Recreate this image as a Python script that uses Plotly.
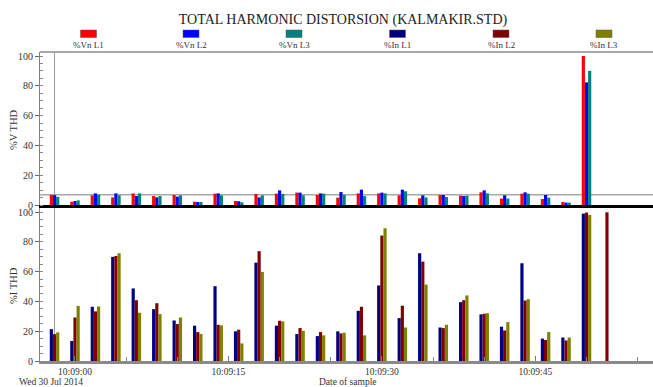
import plotly.graph_objects as go

# ---------------- data ----------------
times = [
    "2014-07-30 10:08:58", "2014-07-30 10:09:00", "2014-07-30 10:09:02", "2014-07-30 10:09:04",
    "2014-07-30 10:09:06", "2014-07-30 10:09:08", "2014-07-30 10:09:10", "2014-07-30 10:09:12",
    "2014-07-30 10:09:14", "2014-07-30 10:09:16", "2014-07-30 10:09:18", "2014-07-30 10:09:20",
    "2014-07-30 10:09:22", "2014-07-30 10:09:24", "2014-07-30 10:09:26", "2014-07-30 10:09:28",
    "2014-07-30 10:09:30", "2014-07-30 10:09:32", "2014-07-30 10:09:34", "2014-07-30 10:09:36",
    "2014-07-30 10:09:38", "2014-07-30 10:09:40", "2014-07-30 10:09:42", "2014-07-30 10:09:44",
    "2014-07-30 10:09:46", "2014-07-30 10:09:48", "2014-07-30 10:09:50", "2014-07-30 10:09:52",
]

vn_l1 = [6.7, 2.2, 6.5, 5.1, 7.8, 6.0, 6.7, 2.2, 7.6, 2.7, 7.4, 7.6, 8.3, 6.7,
         4.9, 7.8, 7.8, 6.5, 4.5, 6.7, 6.3, 8.5, 4.3, 7.6, 4.0, 2.0, 100.0, None]
vn_l2 = [6.6, 2.7, 7.8, 7.8, 6.0, 5.1, 5.6, 2.0, 7.8, 2.5, 5.1, 9.8, 8.3, 7.8,
         8.7, 10.3, 8.3, 10.3, 6.5, 6.7, 6.0, 9.8, 6.5, 8.5, 6.7, 1.6, 82.3, None]
vn_l3 = [5.5, 3.1, 6.9, 6.5, 7.8, 6.0, 6.5, 2.0, 6.5, 1.8, 6.5, 7.4, 6.5, 7.6,
         6.7, 6.0, 7.8, 9.2, 5.1, 5.4, 6.3, 7.8, 4.3, 7.6, 4.9, 1.6, 90.0, None]

in_l1 = [21.4, 13.4, 36.4, 69.9, 48.7, 34.8, 27.2, 23.7, 50.2, 19.9, 66.0, 23.7, 18.1, 16.7,
         19.9, 33.7, 50.7, 28.8, 72.3, 22.5, 39.5, 31.3, 23.0, 65.6, 15.0, 15.8, 98.9, None]
in_l2 = [18.0, 29.2, 33.3, 70.5, 40.8, 38.8, 24.8, 19.4, 24.3, 21.0, 73.7, 27.0, 22.1, 19.4,
         18.5, 36.4, 84.2, 37.1, 66.7, 22.1, 40.8, 31.7, 20.5, 40.6, 14.1, 13.8, 99.6, 99.8]
in_l3 = [19.2, 37.0, 36.6, 72.3, 32.4, 31.5, 29.2, 18.1, 23.9, 11.8, 59.8, 26.6, 20.3, 17.2,
         19.0, 17.2, 89.1, 22.5, 51.3, 24.3, 44.0, 32.1, 26.1, 41.5, 19.4, 15.8, 98.0, None]

v_limit = 6.8          # voltage THD reference line
cursor_time = "2014-07-30 10:08:58"

names = ["%Vn L1", "%Vn L2", "%Vn L3", "%In L1", "%In L2", "%In L3"]
colors = ["#FF0000", "#0000FF", "#008080", "#000080", "#800000", "#808000"]

# ---------------- figure ----------------
W, H = 653, 387
ML, MR, MT, MB = 40, 0, 52, 26
PW, PH = W - ML - MR, H - MT - MB

def px_x(px):
    return (px - ML) / PW

def px_y(py):
    return (H - MB - py) / PH

SERIF = "Liberation Serif, Times New Roman, serif"
BAR_W = 310  # ms
offsets = [-465, -155, 155]

fig = go.Figure()
for i, vals in enumerate([vn_l1, vn_l2, vn_l3]):
    fig.add_trace(go.Bar(x=times, y=vals, name=names[i], marker_color=colors[i],
                         marker_line_width=0, width=BAR_W, offset=offsets[i],
                         xaxis="x2", yaxis="y2", showlegend=False))
for i, vals in enumerate([in_l1, in_l2, in_l3]):
    fig.add_trace(go.Bar(x=times, y=vals, name=names[3 + i], marker_color=colors[3 + i],
                         marker_line_width=0, width=BAR_W, offset=offsets[i],
                         xaxis="x", yaxis="y", showlegend=False))

xrange = ["2014-07-30 10:08:56.58", "2014-07-30 10:09:56.5"]

yax_common = dict(
    range=[0, 100], tickmode="linear", tick0=0, dtick=20,
    showline=True, linecolor="#808080", linewidth=1,
    ticks="outside", ticklen=4, tickcolor="#666666", tickwidth=1,
    minor=dict(dtick=5, ticks="inside", ticklen=3, tickcolor="#888888"),
    showgrid=False, zeroline=False,
    tickfont=dict(family=SERIF, size=10, color="#333333"),
)

fig.update_layout(
    width=W, height=H,
    margin=dict(l=ML, r=MR, t=MT, b=MB),
    paper_bgcolor="white", plot_bgcolor="white",
    barmode="overlay",
    showlegend=False,
    title=dict(text="TOTAL HARMONIC DISTORSION (KALMAKIR.STD)",
               x=343 / W, xref="container", xanchor="center",
               y=1 - 19 / H, yref="container", yanchor="middle",
               font=dict(family=SERIF, size=14, color="#222222")),
    xaxis=dict(type="date", range=xrange, anchor="y", domain=[0, 1],
               showline=True, linecolor="#8a8a8a", linewidth=3,
               tickformat="%H:%M:%S", dtick=15000,
               tick0="2014-07-30 10:09:00",
               ticks="inside", ticklen=5, tickcolor="#777777",
               minor=dict(dtick=5000, ticks="inside", ticklen=4, tickcolor="#888888"),
               showgrid=False, zeroline=False,
               tickfont=dict(family=SERIF, size=9.5, color="#333333")),
    xaxis2=dict(type="date", range=xrange, anchor="y2", matches="x", domain=[0, 1],
                showline=True, linecolor="#000000", linewidth=3,
                showticklabels=False, ticks="", showgrid=False, zeroline=False),
    yaxis=dict(domain=[0, px_y(206)], **{**yax_common, "range": [0, (H - MB - 206) / (149 / 100)]}),
    yaxis2=dict(domain=[px_y(205), 1], **{**yax_common, "range": [0, (205 - 52) / (149 / 100)]}),
)

shapes = []
# top frame line
shapes.append(dict(type="line", xref="paper", yref="paper", x0=0, x1=1, y0=1, y1=1,
                   line=dict(color="#a8a8a8", width=2)))
# reference line in the voltage panel
shapes.append(dict(type="line", xref="paper", yref="y2", x0=0, x1=1, y0=v_limit, y1=v_limit,
                   line=dict(color="#a8a8a8", width=1.5), layer="below"))
# cursor line at first sample
shapes.append(dict(type="line", xref="x", yref="paper", x0=cursor_time, x1=cursor_time,
                   y0=0, y1=1, line=dict(color="#999999", width=1), layer="below"))

# custom legend: swatch above label
leg_centers = [88.5, 191, 294, 397.5, 501, 604]
annotations = []
for cx, nm, col in zip(leg_centers, names, colors):
    shapes.append(dict(type="rect", xref="paper", yref="paper",
                       x0=px_x(cx - 8), x1=px_x(cx + 8), y0=px_y(37.5), y1=px_y(30),
                       fillcolor=col, line=dict(color="#555555", width=0.5)))
    annotations.append(dict(text=nm, xref="paper", yref="paper", x=px_x(cx), y=px_y(45),
                            xanchor="center", yanchor="middle", showarrow=False,
                            font=dict(family=SERIF, size=9, color="#333333")))

annotations.append(dict(text="%V THD", xref="paper", yref="paper", x=px_x(13), y=px_y(130),
                        textangle=-90, xanchor="center", yanchor="middle", showarrow=False,
                        font=dict(family=SERIF, size=10.5, color="#333333")))
annotations.append(dict(text="%I THD", xref="paper", yref="paper", x=px_x(13), y=px_y(286),
                        textangle=-90, xanchor="center", yanchor="middle", showarrow=False,
                        font=dict(family=SERIF, size=10.5, color="#333333")))
annotations.append(dict(text="Wed 30 Jul 2014", xref="paper", yref="paper", x=px_x(17), y=px_y(382.5),
                        xanchor="left", yanchor="middle", showarrow=False,
                        font=dict(family=SERIF, size=9.5, color="#333333")))
annotations.append(dict(text="Date of sample", xref="paper", yref="paper", x=px_x(348), y=px_y(382.5),
                        xanchor="center", yanchor="middle", showarrow=False,
                        font=dict(family=SERIF, size=9.5, color="#333333")))

fig.update_layout(shapes=shapes, annotations=annotations)

fig.write_html("out.html", config={"displayModeBar": False},
               post_script="document.body.style.margin='0';document.body.style.padding='0';")
